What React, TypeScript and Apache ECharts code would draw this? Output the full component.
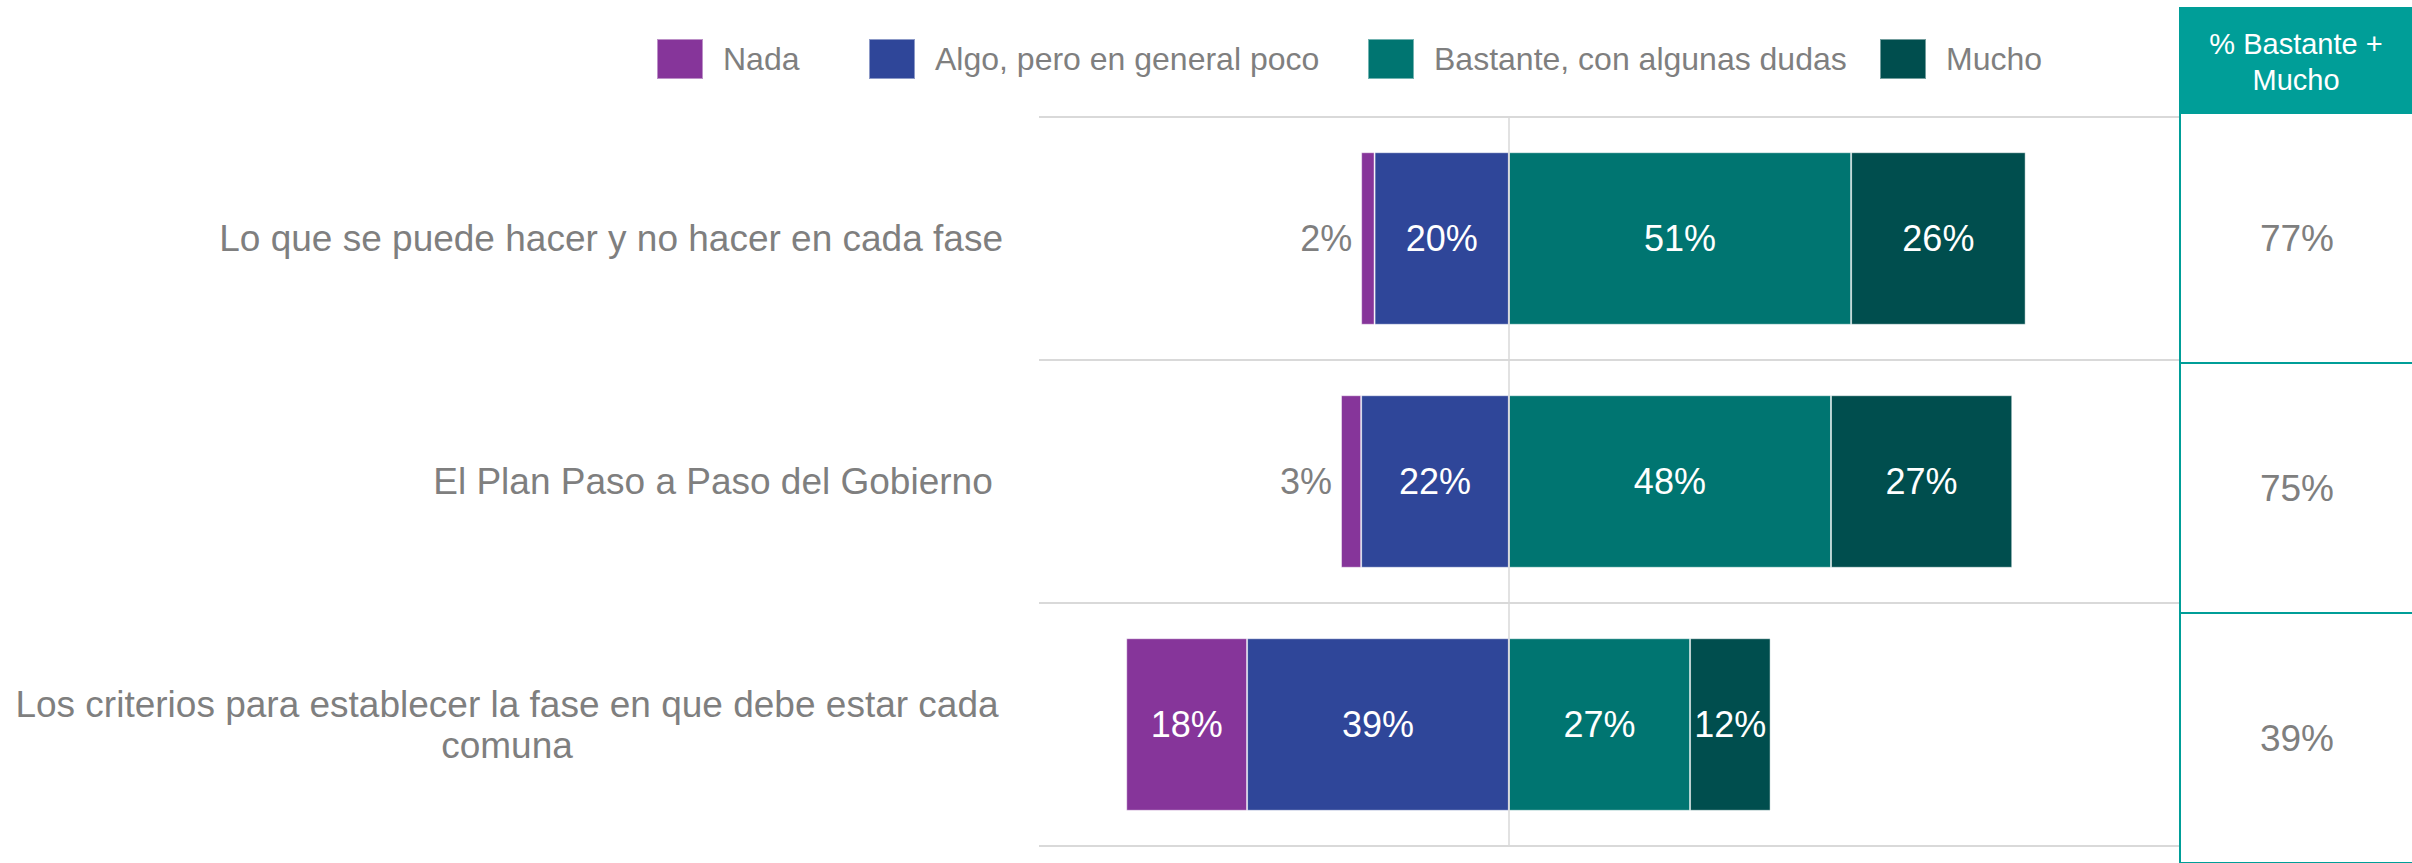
import React, { useEffect, useRef } from "react";
import * as echarts from "echarts";

const categories = [
  "Lo que se puede hacer y no hacer en cada fase",
  "El Plan Paso a Paso del Gobierno ",
  "Los criterios para establecer la fase en que debe estar cada comuna",
];
const seriesNames = ["Nada", "Algo, pero en general poco", "Bastante, con algunas dudas", "Mucho"];
const nada = [2, 3, 18];
const algo = [20, 22, 39];
const bastante = [51, 48, 27];
const mucho = [26, 27, 12];
const tableHeader = "% Bastante +\nMucho";

const colors = ["#86359a", "#2f4699", "#007571", "#004e4e"];
const legendLefts = [656, 868, 1367, 1879];
const teal = "#009e98";
const grey = "#7f7f7f";
const font = "'Liberation Sans', Arial, Helvetica, sans-serif";

function wrap(text: string, maxChars: number): string[] {
  const words = text.split(" ");
  const lines: string[] = [];
  let cur = "";
  for (const w of words) {
    const next = cur ? cur + " " + w : w;
    if (next.length > maxChars && cur) {
      lines.push(cur);
      cur = w;
    } else {
      cur = next;
    }
  }
  if (cur) lines.push(cur);
  return lines;
}

export default function App() {
  const ref = useRef<HTMLDivElement>(null);
  useEffect(() => {
    if (!ref.current) return;
    const chart = echarts.init(ref.current, undefined, { renderer: "svg" });
    const totals = bastante.map((v, i) => v + mucho[i]);
    const barLabel = {
      show: true,
      position: "inside",
      color: "#ffffff",
      fontSize: 36,
      fontFamily: font,
      formatter: (p: any) => Math.abs(p.value) + "%",
    };
    const itemBorder = { borderColor: "rgba(255,255,255,0.45)", borderWidth: 1 };
    const common = {
      type: "bar",
      stack: "total",
      barWidth: "71%",
      xAxisIndex: 0,
      yAxisIndex: 0,
      label: barLabel,
      emphasis: { disabled: true },
    };
    chart.setOption({
      animation: false,
      legend: seriesNames.map((name, i) => ({
        data: [name],
        left: legendLefts[i],
        top: 38,
        padding: 0,
        itemWidth: 46,
        itemHeight: 40,
        icon: "rect",
        selectedMode: false,
        textStyle: { fontSize: 32, color: grey, fontFamily: font, padding: [0, 0, 0, 15] },
      })),
      grid: [
        { left: 1039, right: 232, top: 117, bottom: 17 },
        { left: 2180, right: 0, top: 113, bottom: 0 },
      ],
      xAxis: [
        { type: "value", gridIndex: 0, min: -70, max: 100, show: false },
        { type: "value", gridIndex: 1, min: 0, max: 1, show: false },
      ],
      yAxis: [
        {
          type: "category",
          gridIndex: 0,
          inverse: true,
          data: categories,
          axisLine: { show: false },
          axisTick: { show: false },
          splitLine: { show: true, lineStyle: { color: "#d9d9d9", width: 2 } },
          axisLabel: {
            margin: 36,
            fontSize: 37,
            color: grey,
            fontFamily: font,
            lineHeight: 41,
            formatter: (value: string) => {
              const lines = wrap(value, 60);
              if (lines.length === 1) return value;
              return lines.map((l) => `{c|${l}}`).join("\n");
            },
            rich: {
              c: { width: 992, align: "center", fontSize: 37, lineHeight: 41, color: grey, fontFamily: font },
            },
          },
        },
        {
          type: "category",
          gridIndex: 1,
          inverse: true,
          data: totals.map((t) => t + "%"),
          axisLine: { show: true, lineStyle: { color: teal, width: 2 } },
          axisTick: { show: false },
          splitLine: { show: true, lineStyle: { color: teal, width: 2 } },
          axisLabel: {
            inside: true,
            align: "center",
            margin: 117,
            fontSize: 37,
            color: grey,
            fontFamily: font,
          },
        },
      ],
      graphic: [
        {
          type: "rect",
          left: 2179,
          top: 7,
          shape: { width: 233, height: 106 },
          style: { fill: teal },
          z: 10,
        },
        {
          type: "text",
          x: 2296,
          y: 62,
          z: 11,
          style: {
            text: tableHeader,
            align: "center",
            verticalAlign: "middle",
            fontSize: 29,
            lineHeight: 36,
            fill: "#ffffff",
            fontFamily: font,
          },
        },
      ],
      series: [
        {
          ...common,
          name: seriesNames[1],
          data: algo.map((v) => -v),
          itemStyle: { color: colors[1], ...itemBorder },
          markLine: {
            silent: true,
            symbol: ["none", "none"],
            label: { show: false },
            lineStyle: { color: "#d9d9d9", width: 1.5, type: "solid" },
            emphasis: { disabled: true },
            data: [{ xAxis: 0 }],
          },
        },
        {
          ...common,
          name: seriesNames[0],
          data: nada.map((v) =>
            v < 5
              ? { value: -v, label: { position: "left", color: grey, distance: 9 } }
              : { value: -v }
          ),
          itemStyle: { color: colors[0], ...itemBorder },
        },
        {
          ...common,
          name: seriesNames[2],
          data: bastante,
          itemStyle: { color: colors[2], ...itemBorder },
        },
        {
          ...common,
          name: seriesNames[3],
          data: mucho,
          itemStyle: { color: colors[3], ...itemBorder },
        },
        {
          type: "scatter",
          xAxisIndex: 1,
          yAxisIndex: 1,
          data: [],
          silent: true,
        },
      ],
    });
    return () => chart.dispose();
  }, []);
  return (
    <div
      ref={ref}
      style={{ position: "absolute", left: 0, top: 0, width: 2412, height: 863, background: "#ffffff" }}
    />
  );
}
